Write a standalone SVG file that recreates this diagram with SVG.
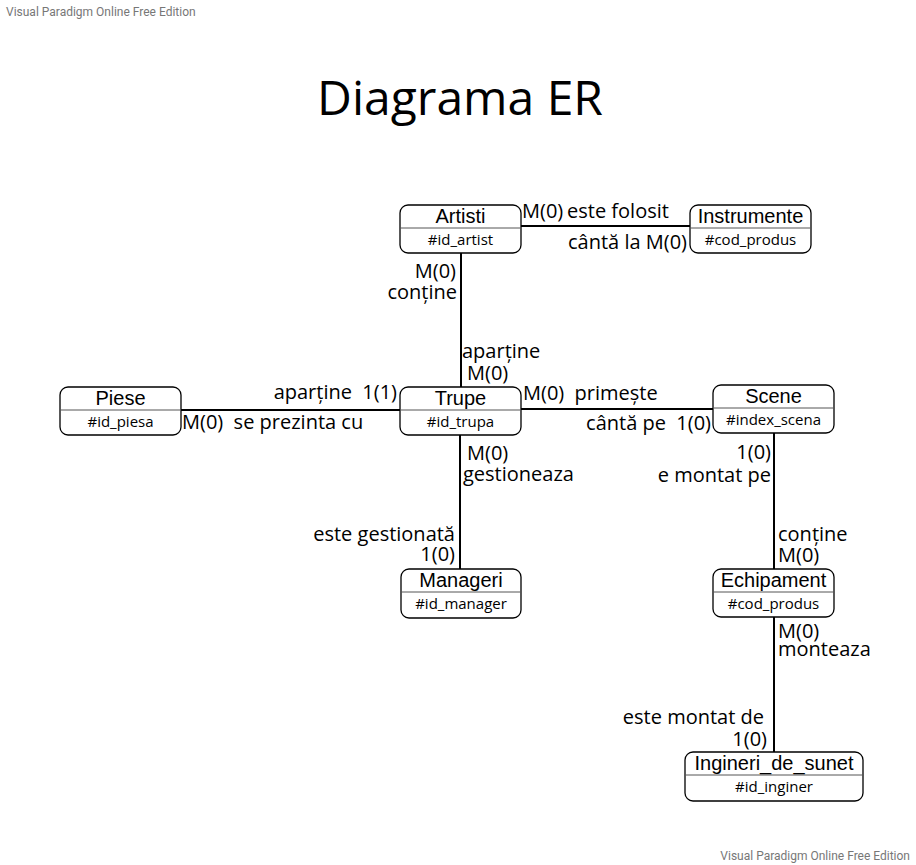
<svg xmlns="http://www.w3.org/2000/svg" width="916" height="865" viewBox="0 0 916 865">
<style>
.box{fill:#fff;stroke:#000;stroke-width:1.3}
.div{stroke:#555;stroke-width:1}
.name{font-family:"Liberation Sans",Arial,sans-serif;font-size:20px;text-anchor:middle;fill:#000}
.attr{font-family:"Open Sans","Noto Sans",sans-serif;font-size:15px;text-anchor:middle;fill:#000}
.lbl{font-family:"Open Sans","Noto Sans",sans-serif;font-size:20px;fill:#000}
.r{text-anchor:end}
.con{stroke:#000;stroke-width:2;fill:none}
.wm{font-family:Roboto,"Liberation Sans",sans-serif;font-size:12px;fill:#777}
</style>
<rect width="916" height="865" fill="#fff"/>
<text class="wm" x="6" y="16">Visual Paradigm Online Free Edition</text>
<text class="wm" x="910" y="860" text-anchor="end">Visual Paradigm Online Free Edition</text>
<text x="460" y="115" font-family="'Open Sans','Noto Sans',sans-serif" font-size="48" text-anchor="middle">Diagrama ER</text>
<g id="connectors">
<line class="con" x1="521" y1="226" x2="690" y2="226"/>
<line class="con" x1="461" y1="253" x2="461" y2="387"/>
<line class="con" x1="181" y1="410" x2="400" y2="410"/>
<line class="con" x1="521" y1="409" x2="713" y2="409"/>
<line class="con" x1="460" y1="435" x2="460" y2="569"/>
<line class="con" x1="774" y1="433" x2="774" y2="569"/>
<line class="con" x1="774" y1="617" x2="774" y2="752"/>
</g>
<g id="labels">
<text class="lbl" x="522" y="218">M(0)</text>
<text class="lbl" x="567" y="218">este folosit</text>
<text class="lbl r" x="687" y="249">cântă la M(0)</text>
<text class="lbl r" x="456" y="278">M(0)</text>
<text class="lbl r" x="457" y="299">conține</text>
<text class="lbl" x="462" y="358">aparține</text>
<text class="lbl" x="467" y="380">M(0)</text>
<text class="lbl r" x="397" y="399" xml:space="preserve">aparține  1(1)</text>
<text class="lbl" x="182" y="429" xml:space="preserve">M(0)  se prezinta cu</text>
<text class="lbl" x="523" y="400" xml:space="preserve">M(0)  primește</text>
<text class="lbl r" x="711" y="430" xml:space="preserve">cântă pe  1(0)</text>
<text class="lbl" x="467" y="460">M(0)</text>
<text class="lbl" x="463" y="481">gestioneaza</text>
<text class="lbl r" x="455" y="541">este gestionată</text>
<text class="lbl r" x="455" y="561">1(0)</text>
<text class="lbl r" x="771" y="459">1(0)</text>
<text class="lbl r" x="771" y="482">e montat pe</text>
<text class="lbl" x="778" y="541">conține</text>
<text class="lbl" x="778" y="562">M(0)</text>
<text class="lbl" x="778" y="638">M(0)</text>
<text class="lbl" x="778" y="656">monteaza</text>
<text class="lbl r" x="764" y="724">este montat de</text>
<text class="lbl r" x="767" y="746">1(0)</text>
</g>
<g id="Artisti">
<rect class="box" x="400" y="205" width="121" height="48" rx="8"/>
<line class="div" x1="400" y1="228" x2="521" y2="228"/>
<text class="name" x="460.5" y="223">Artisti</text>
<text class="attr" x="460.5" y="245">#id_artist</text>
</g>
<g id="Instrumente">
<rect class="box" x="690" y="205" width="121" height="48" rx="8"/>
<line class="div" x1="690" y1="228" x2="811" y2="228"/>
<text class="name" x="750.5" y="223">Instrumente</text>
<text class="attr" x="750.5" y="245">#cod_produs</text>
</g>
<g id="Piese">
<rect class="box" x="60" y="387" width="121" height="48" rx="8"/>
<line class="div" x1="60" y1="410" x2="181" y2="410"/>
<text class="name" x="120.5" y="405">Piese</text>
<text class="attr" x="120.5" y="427">#id_piesa</text>
</g>
<g id="Trupe">
<rect class="box" x="400" y="387" width="121" height="48" rx="8"/>
<line class="div" x1="400" y1="410" x2="521" y2="410"/>
<text class="name" x="460.5" y="405">Trupe</text>
<text class="attr" x="460.5" y="427">#id_trupa</text>
</g>
<g id="Scene">
<rect class="box" x="713" y="385" width="121" height="48" rx="8"/>
<line class="div" x1="713" y1="408" x2="834" y2="408"/>
<text class="name" x="773.5" y="403">Scene</text>
<text class="attr" x="773.5" y="425">#index_scena</text>
</g>
<g id="Manageri">
<rect class="box" x="401" y="569" width="120" height="49" rx="8"/>
<line class="div" x1="401" y1="592" x2="521" y2="592"/>
<text class="name" x="461" y="587">Manageri</text>
<text class="attr" x="461" y="609">#id_manager</text>
</g>
<g id="Echipament">
<rect class="box" x="713" y="569" width="121" height="48" rx="8"/>
<line class="div" x1="713" y1="592" x2="834" y2="592"/>
<text class="name" x="773.5" y="587">Echipament</text>
<text class="attr" x="773.5" y="609">#cod_produs</text>
</g>
<g id="Ingineri_de_sunet">
<rect class="box" x="685" y="752" width="178" height="49" rx="8"/>
<line class="div" x1="685" y1="775" x2="863" y2="775"/>
<text class="name" x="774" y="770">Ingineri_de_sunet</text>
<text class="attr" x="774" y="792">#id_inginer</text>
</g>
</svg>
